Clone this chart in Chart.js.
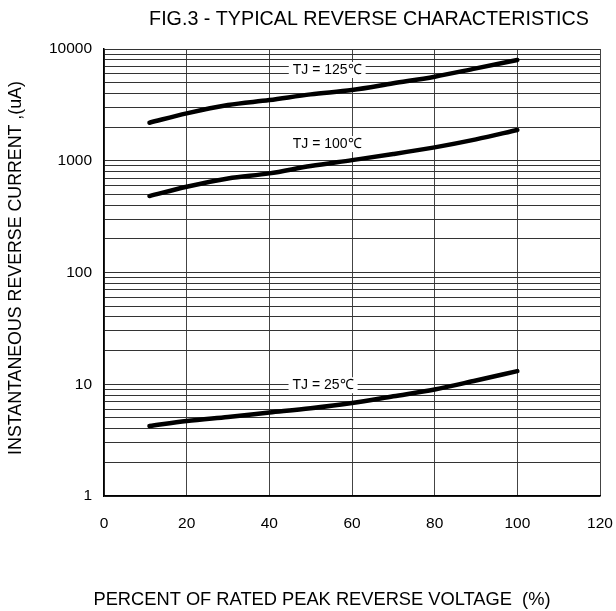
<!DOCTYPE html>
<html>
<head>
<meta charset="utf-8">
<script src="https://cdn.jsdelivr.net/npm/chart.js@4/dist/chart.umd.min.js"></script>
<style>
  html, body { margin: 0; padding: 0; background: #fff; }
  #chart { display: block; }
</style>
</head>
<body>
<canvas id="chart" width="616" height="611"></canvas>
<script>
// data
const voltagePct = [11, 20, 30, 40, 50, 60, 70, 80, 90, 100];
const current125 = [2190, 2655, 3155, 3490, 3925, 4295, 4930, 5650, 6710, 7975];
const current100 = [483, 585, 695, 771, 897, 1013, 1148, 1318, 1554, 1885];
const current25 = [4.23, 4.69, 5.1, 5.58, 6.1, 6.8, 7.8, 8.96, 10.8, 13.1];

const xTicks = [0, 20, 40, 60, 80, 100, 120];
const yDecades = [1, 10, 100, 1000, 10000];
const curveLabels = ['TJ = 125℃', 'TJ = 100℃', 'TJ = 25℃'];
const labelX = [54, 54, 53];
const labelY = [6490, 1410, 9.8];

const FONT = '"Liberation Sans", Arial, sans-serif';

function toPoints(ys) {
  return voltagePct.map((x, i) => ({ x: x, y: ys[i] }));
}

const lineStyle = {
  borderColor: '#000',
  borderWidth: 4.5,
  borderCapStyle: 'round',
  pointRadius: 0,
  fill: false,
  cubicInterpolationMode: 'monotone'
};

// titles + curve labels with white box behind
const textPlugin = {
  id: 'texts',
  afterDatasetsDraw(chart) {
    const ctx = chart.ctx;
    const xs = chart.scales.x, ys = chart.scales.y;
    ctx.save();
    ctx.font = '14px ' + FONT;
    ctx.textAlign = 'center';
    ctx.textBaseline = 'middle';
    curveLabels.forEach((txt, i) => {
      const px = xs.getPixelForValue(labelX[i]);
      const py = ys.getPixelForValue(labelY[i]);
      const w = ctx.measureText(txt).width + 8;
      ctx.fillStyle = '#fff';
      ctx.fillRect(px - w / 2, py - 8, w, 16);
      ctx.fillStyle = '#000';
      ctx.fillText(txt, px, py);
    });
    ctx.restore();
  },
  afterDraw(chart) {
    const ctx = chart.ctx;
    ctx.save();
    ctx.fillStyle = '#000';
    ctx.textAlign = 'center';
    ctx.textBaseline = 'middle';
    ctx.font = '19.7px ' + FONT;
    ctx.fillText('FIG.3 - TYPICAL REVERSE CHARACTERISTICS', 369, 20);
    ctx.font = '18.3px ' + FONT;
    ctx.fillText('PERCENT OF RATED PEAK REVERSE VOLTAGE  (%)', 322, 600);
    ctx.translate(16, 268);
    ctx.rotate(-Math.PI / 2);
    ctx.font = '17.8px ' + FONT;
    ctx.fillText('INSTANTANEOUS REVERSE CURRENT ,(uA)', 0, 0);
    ctx.restore();
  }
};

new Chart(document.getElementById('chart').getContext('2d'), {
  type: 'line',
  data: {
    datasets: [
      Object.assign({ label: curveLabels[0], data: toPoints(current125) }, lineStyle),
      Object.assign({ label: curveLabels[1], data: toPoints(current100) }, lineStyle),
      Object.assign({ label: curveLabels[2], data: toPoints(current25) }, lineStyle)
    ]
  },
  options: {
    responsive: false,
    animation: false,
    layout: { padding: { top: 49, right: 16, left: 0, bottom: 0 } },
    plugins: { legend: { display: false }, tooltip: { enabled: false } },
    scales: {
      x: {
        type: 'linear',
        min: 0,
        max: 120,
        afterBuildTicks: s => { s.ticks = xTicks.map(v => ({ value: v })); },
        afterFit: s => { s.height = 115; s.paddingLeft = 0; s.paddingRight = 0; },
        ticks: { color: '#000', font: { family: FONT, size: 15.5 }, padding: 18, maxRotation: 0, autoSkip: false },
        grid: { color: '#444', lineWidth: 1, drawTicks: false },
        border: { color: '#000', width: 1.5 }
      },
      y: {
        type: 'logarithmic',
        min: 1,
        max: 10000,
        afterBuildTicks: s => {
          const t = [];
          yDecades.forEach(d => {
            if (d === 10000) { t.push({ value: d }); return; }
            for (let m = 1; m <= 9; m++) t.push({ value: d * m });
          });
          s.ticks = t;
        },
        afterFit: s => { s.width = 104; },
        ticks: {
          color: '#000',
          font: { family: FONT, size: 15.5 },
          padding: 12,
          autoSkip: false,
          callback: v => yDecades.includes(v) ? String(v) : ''
        },
        grid: { color: '#333', lineWidth: 1, drawTicks: false },
        border: { color: '#000', width: 1.5 }
      }
    }
  },
  plugins: [textPlugin]
});
</script>
</body>
</html>
